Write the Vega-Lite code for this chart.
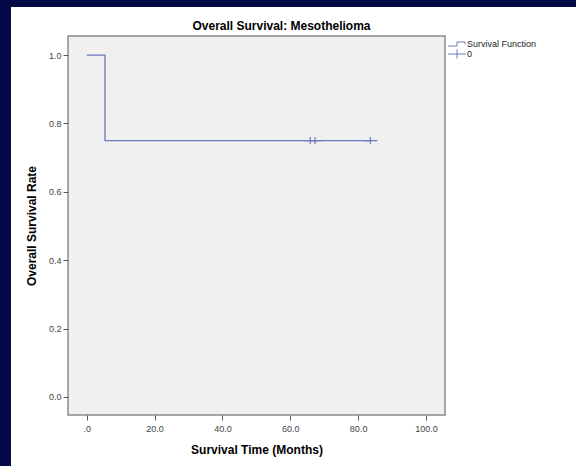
{
  "$schema": "https://vega.github.io/schema/vega-lite/v6.json",
  "width": 377,
  "height": 379,
  "autosize": {"type": "none"},
  "padding": {"left": 68, "top": 36, "right": 131, "bottom": 51},
  "background": "#030847",
  "title": {
    "text": "Overall Survival: Mesothelioma",
    "font": "Liberation Sans",
    "fontSize": 12,
    "fontWeight": "bold",
    "color": "#000000",
    "anchor": "middle",
    "frame": "group",
    "baseline": "alphabetic",
    "offset": -35,
    "dx": 25,
    "zindex": 2
  },
  "config": {
    "view": {"stroke": null},
    "axis": {
      "labelFont": "Liberation Sans",
      "titleFont": "Liberation Sans",
      "labelFontSize": 9,
      "labelColor": "#444444",
      "titleFontSize": 12,
      "titleFontWeight": "bold",
      "titleColor": "#000000",
      "tickColor": "#555555",
      "tickSize": 5,
      "grid": false,
      "domain": false
    },
    "legend": {
      "labelFont": "Liberation Sans",
      "labelFontSize": 9,
      "labelColor": "#222222"
    }
  },
  "datasets": {
    "curve": [
      {"time": 0, "survival": 1.0},
      {"time": 5.4, "survival": 0.75},
      {"time": 83.6, "survival": 0.75}
    ],
    "censor": [
      {"time": 65.9, "survival": 0.75, "status": "0"},
      {"time": 67.3, "survival": 0.75, "status": "0"},
      {"time": 83.6, "survival": 0.75, "status": "0"}
    ]
  },
  "layer": [
    {
      "data": {"values": [{}]},
      "mark": {"type": "rect", "fill": "#ffffff", "clip": false},
      "encoding": {
        "x": {
          "datum": -22.3, "type": "quantitative",
          "scale": {"domain": [-5.5, 105.6], "nice": false, "zero": false},
          "axis": {
            "title": "Survival Time (Months)",
            "values": [0, 20, 40, 60, 80, 100],
            "labelExpr": "datum.value == 0 ? '.0' : format(datum.value, '.1f')",
            "labelPadding": 4,
            "titlePadding": 11,
            "zindex": 3
          }
        },
        "x2": {"datum": 144.5},
        "y": {
          "datum": 1.141, "type": "quantitative",
          "scale": {"domain": [-0.053, 1.056], "nice": false, "zero": false},
          "axis": {
            "title": "Overall Survival Rate",
            "values": [0, 0.2, 0.4, 0.6, 0.8, 1.0],
            "format": ".1f",
            "labelPadding": 2,
            "titlePadding": 10,
            "zindex": 3
          }
        },
        "y2": {"datum": -0.21}
      }
    },
    {
      "data": {"values": [{}]},
      "mark": {"type": "rect", "fill": "#f0f0f0", "stroke": "#8a8a8a", "strokeWidth": 1.5, "clip": false},
      "encoding": {
        "x": {"datum": -5.5, "type": "quantitative"},
        "x2": {"datum": 105.6},
        "y": {"datum": 1.056, "type": "quantitative"},
        "y2": {"datum": -0.053}
      }
    },
    {
      "data": {"name": "curve"},
      "mark": {"type": "line", "interpolate": "step-after", "color": "#6c78c0", "strokeWidth": 1.3},
      "encoding": {
        "x": {"field": "time", "type": "quantitative"},
        "y": {"field": "survival", "type": "quantitative"}
      }
    },
    {
      "data": {"name": "censor"},
      "mark": {"type": "point", "filled": false, "color": "#6c78c0", "strokeWidth": 1.2, "size": 49, "opacity": 1},
      "encoding": {
        "x": {"field": "time", "type": "quantitative"},
        "y": {"field": "survival", "type": "quantitative"},
        "shape": {
          "field": "status", "type": "nominal",
          "scale": {
            "domain": ["Survival Function", "0"],
            "range": ["M-2,0.45H0V-0.45H1.8V0.1", "M-2,0H2M0,-1V1"]
          },
          "legend": {
            "title": null,
            "orient": "none",
            "legendX": 384,
            "legendY": 3,
            "padding": 0,
            "symbolSize": 81,
            "symbolStrokeWidth": 1,
            "symbolStrokeColor": "#6c78c0",
            "symbolFillColor": "transparent",
            "rowPadding": -2,
            "labelOffset": 5
          }
        }
      }
    }
  ]
}
